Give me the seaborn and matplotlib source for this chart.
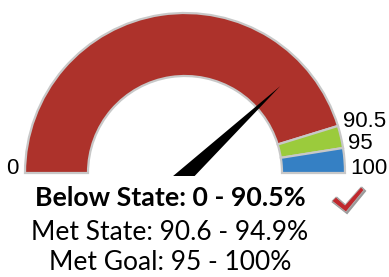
import matplotlib
matplotlib.use("Agg")
import matplotlib.pyplot as plt
from matplotlib.patches import Wedge, Polygon, Rectangle
import numpy as np
import seaborn as sns

# --- data -------------------------------------------------------------
band_edges = [0, 90.5, 95, 100]
band_colors = ["#AD322B", "#9BCB3C", "#3580C4"]
tick_values = [0, 90.5, 95, 100]
tick_labels = ["0", "90.5", "95", "100"]
needle_value = 76
legend_lines = ["Below State: 0 - 90.5%", "Met State: 90.6 - 94.9%", "Met Goal: 95 - 100%"]

sns.set_theme(style="white")

W, H = 389, 277
fig = plt.figure(figsize=(W / 100, H / 100), dpi=100)
ax = fig.add_axes([0, 0, 1, 1])
ax.set_xlim(0, W)
ax.set_ylim(0, H)
ax.axis("off")

# gauge geometry (pixel-ish units, y up)
cx, cy = 185, H - 173
r_out, r_in = 160, 97


def val2ang(v):
    return 180 - v / 100 * 180


for lo, hi, col in zip(band_edges[:-1], band_edges[1:], band_colors):
    ax.add_patch(Wedge((cx, cy), r_out, val2ang(hi), val2ang(lo),
                       width=r_out - r_in, facecolor=col,
                       edgecolor="#C8C8C8", linewidth=1.6))

# tick labels at band edges
for v, lab in zip(tick_values, tick_labels):
    a = np.radians(val2ang(v))
    x = cx + r_out * np.cos(a)
    y = cy + r_out * np.sin(a)
    if v == 0:
        ax.text(x - 6, y - 1, lab, ha="right", va="baseline",
                fontsize=16, family="Liberation Sans", color="black")
    else:
        ax.text(x + 5, y - 1, lab, ha="left", va="baseline",
                fontsize=16, family="Liberation Sans", color="black")

# needle (pivot hidden below the gauge base)
px, py = 176, H - 184
a = np.radians(val2ang(needle_value))
L = 143
tip = (px + L * np.cos(a), py + L * np.sin(a))
perp = np.array([-np.sin(a), np.cos(a)]) * 8
needle = Polygon([tip, (px + perp[0], py + perp[1]), (px - perp[0], py - perp[1])],
                 closed=True, facecolor="black", edgecolor="none")
ax.add_patch(needle)
clip = Rectangle((0, H - 176), W, H, transform=ax.transData)
needle.set_clip_path(clip)

# legend text
ys = [H - 198, H - 233, H - 263]
weights = ["bold", "normal", "normal"]
sizes = [19.3, 19, 19]
for txt, y, w, s in zip(legend_lines, ys, weights, sizes):
    ax.text(170, y, txt, ha="center", va="center", fontsize=s,
            family="Lato", fontweight=w, color="black")

# check mark
chk = [(332, 201), (336, 197), (345, 205), (361, 187), (364, 190), (346, 212)]
ax.add_patch(Polygon([(x + 1, H - y - 1) for x, y in chk], closed=True,
                     facecolor="#9A9A9A", edgecolor="#9A9A9A", linewidth=1.5))
ax.add_patch(Polygon([(x, H - y) for x, y in chk], closed=True,
                     facecolor="#C0282D", edgecolor="#B0B0B0", linewidth=0.6))

fig.savefig("out.png", dpi=100)
